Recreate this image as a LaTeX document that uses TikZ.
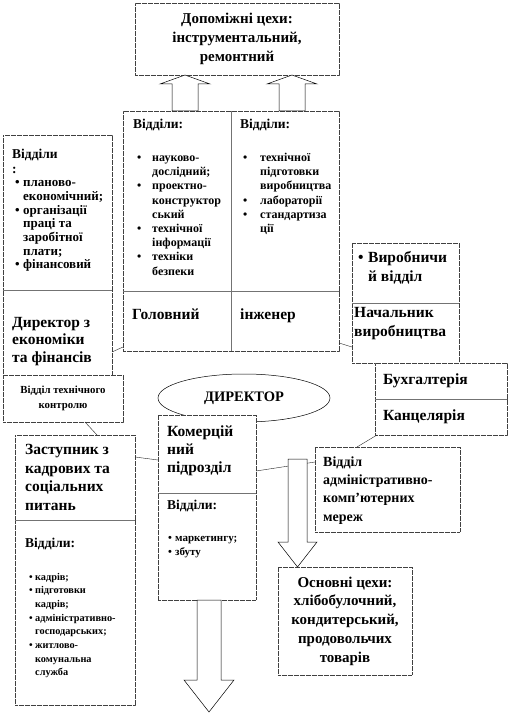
\documentclass[tikz,border=0pt]{standalone}
\usepackage{fontspec}
\setmainfont{Liberation Serif}
\usepackage{tikz}
\usetikzlibrary{shapes.geometric,calc}

\newcommand{\fnt}[2]{\fontsize{#1}{#2}\selectfont\bfseries}
\newcommand{\itm}[2][15pt]{\makebox[#1][l]{\textbullet}#2}
\newcommand{\contl}[2][15pt]{\hspace*{#1}#2}

\begin{document}
\begin{tikzpicture}[x=1pt,y=-1pt,
  cell/.style={draw=black!75,dash pattern=on 0.6pt off 0.6pt,line width=0.5pt,fill=white,anchor=north west,inner sep=0pt,outer sep=0pt},
  txt/.style={anchor=north west,align=left,inner sep=0pt},
  divider/.style={draw=black!55,line width=0.7pt},
  link/.style={draw=black!85,line width=0.4pt},
  blk/.style={draw,fill=white,line width=0.5pt,line join=miter},
  pics/barrow/.style args={#1/#2/#3/#4}{code={
    \draw[blk] (-#3,0) -- (-#3,#1) -- (-#4,#1) -- (0,#2) -- (#4,#1) -- (#3,#1) -- (#3,0) -- cycle;}}
]
  \path[fill=white,use as bounding box] (0,0) rectangle (510,714);

  % допоміжні цехи
  \node[cell,minimum width=204,minimum height=72,align=center,font={\fnt{15}{19}}] (dop) at (135,3)
    {Допоміжні цехи:\\інструментальний,\\ремонтний};

  % головний інженер
  \node[cell,minimum width=108,minimum height=180] (vlt) at (123,111) {};
  \node[cell,minimum width=108,minimum height=180] (vrt) at (231,111) {};
  \node[cell,minimum width=108,minimum height=60] (golov) at (123,291) {};
  \node[cell,minimum width=108,minimum height=60] (inzh) at (231,291) {};
  \draw[divider] (vlt.south west) -- (vrt.south east);
  \draw[divider] (vlt.north east) -- (inzh.south west);
  \node[txt,font={\fnt{13.5}{16}}] at ([xshift=10pt,yshift=-6.6pt]vlt.north west) {\strut Відділи:};
  \node[txt,font={\fnt{12}{14.2}}] at ([xshift=14pt,yshift=-40.4pt]vlt.north west)
    {\strut\itm{науково-}\\\contl{дослідний;}\\\itm{проектно-}\\\contl{конструктор}\\\contl{ський}\\
     \itm{технічної}\\\contl{інформації}\\\itm{техніки}\\\contl{безпеки}};
  \node[txt,font={\fnt{13.5}{16}}] at ([xshift=9pt,yshift=-6.6pt]vrt.north west) {\strut Відділи:};
  \node[txt,font={\fnt{12}{14.2}}] at ([xshift=12pt,yshift=-40.4pt]vrt.north west)
    {\strut\itm[17pt]{технічної}\\\contl[17pt]{підготовки}\\\contl[17pt]{виробництва}\\
     \itm[17pt]{лабораторії}\\\itm[17pt]{стандартиза}\\\contl[17pt]{ції}};
  \node[txt,font={\fnt{15.5}{18.5}}] at ([xshift=9pt,yshift=-15.4pt]golov.north west) {\strut Головний};
  \node[txt,font={\fnt{15.5}{18.5}}] at ([xshift=9pt,yshift=-15.4pt]inzh.north west) {\strut інженер};

  % директор з економіки
  \node[cell,minimum width=109,minimum height=155] (econv) at (3,135) {};
  \node[cell,minimum width=109,minimum height=85] (econd) at (3,290) {};
  \draw[divider] (econv.south west) -- (econv.south east);
  \node[txt,font={\fnt{13.5}{15}}] at ([xshift=9pt,yshift=-13.3pt]econv.north west) {\strut Відділи\\:};
  \node[txt,font={\fnt{13}{13.7}}] at ([xshift=12pt,yshift=-42pt]econv.north west)
    {\strut\itm[8pt]{планово-}\\\contl[8pt]{економічний;}\\\itm[8pt]{організації}\\\contl[8pt]{праці та}\\
     \contl[8pt]{заробітної}\\\contl[8pt]{плати;}\\\itm[8pt]{фінансовий}};
  \node[txt,font={\fnt{15.5}{17.5}}] at ([xshift=9pt,yshift=-25pt]econd.north west)
    {\strut Директор з\\економіки\\та фінансів};

  \node[cell,minimum width=120,minimum height=47,align=center,font={\fnt{10.8}{15}}] (vtk) at (3,375)
    {Відділ технічного\\контролю};

  % начальник виробництва
  \node[cell,minimum width=107,minimum height=60] (virv) at (352,243) {};
  \node[cell,minimum width=107,minimum height=60] (nach) at (352,303) {};
  \draw[divider] (virv.south west) -- (virv.south east);
  \node[txt,font={\fnt{15.5}{19}}] at ([xshift=6pt,yshift=-6pt]virv.north west)
    {\strut\itm[10pt]{Виробничи}\\\contl[10pt]{й відділ}};
  \node[txt,font={\fnt{15.5}{19}}] at ([xshift=2pt,yshift=-1pt]nach.north west)
    {\strut Начальник\\виробництва};

  \node[cell,minimum width=132,minimum height=36,text width=116,inner xsep=8pt,align=left,font={\fnt{15.5}{18}}] (buh) at (375,363) {Бухгалтерія};
  \node[cell,minimum width=132,minimum height=36,text width=116,inner xsep=8pt,align=left,font={\fnt{15.5}{18}}] (kanc) at (375,399) {Канцелярія};
  \draw[divider] (buh.south west) -- (buh.south east);

  \node[ellipse,draw,line width=0.5pt,fill=white,minimum width=172,minimum height=48,inner sep=0pt,font={\fnt{14.5}{17}}] (dir) at (244,398) {ДИРЕКТОР};

  % комерційний підрозділ
  \node[cell,minimum width=98,minimum height=78] (komt) at (158,415) {};
  \node[cell,minimum width=98,minimum height=107] (komd) at (158,493) {};
  \draw[divider] (komt.south west) -- (komt.south east);
  \node[txt,font={\fnt{15.5}{18}}] at ([xshift=9pt,yshift=-8.7pt]komt.north west)
    {\strut Комерцій\\ний\\підрозділ};
  \node[txt,font={\fnt{13.5}{16}}] at ([xshift=9pt,yshift=-4.6pt]komd.north west) {\strut Відділи:};
  \node[txt,font={\fnt{11}{14}}] at ([xshift=10pt,yshift=-38.3pt]komd.north west)
    {\strut\itm[7pt]{маркетингу;}\\\itm[7pt]{збуту}};

  % заступник з кадрових питань
  \node[cell,minimum width=120,minimum height=85] (zast) at (15,435) {};
  \node[cell,minimum width=120,minimum height=185] (zastd) at (15,520) {};
  \draw[divider] (zast.south west) -- (zast.south east);
  \node[txt,font={\fnt{15.5}{18.7}}] at ([xshift=10pt,yshift=-6.2pt]zast.north west)
    {\strut Заступник з\\кадрових та\\соціальних\\питань};
  \node[txt,font={\fnt{13.5}{16}}] at ([xshift=10pt,yshift=-15.6pt]zastd.north west) {\strut Відділи:};
  \node[txt,font={\fnt{10.3}{13.7}}] at ([xshift=14pt,yshift=-50.3pt]zastd.north west)
    {\strut\itm[6pt]{кадрів;}\\\itm[6pt]{підготовки}\\\contl[6pt]{кадрів;}\\\itm[6pt]{адміністративно-}\\
     \contl[6pt]{господарських;}\\\itm[6pt]{житлово-}\\\contl[6pt]{комунальна}\\\contl[6pt]{служба}};

  \node[cell,minimum width=145,minimum height=85] (adm) at (315,447) {};
  \node[txt,font={\fnt{14}{18.3}}] at ([xshift=8pt,yshift=-6.1pt]adm.north west)
    {\strut Відділ\\адміністративно-\\комп'ютерних\\мереж};

  \node[cell,minimum width=134,minimum height=108,align=center,font={\fnt{15}{18.7}}] (osn) at (278,567)
    {Основні цехи:\\хлібобулочний,\\кондитерський,\\продовольчих\\товарів};

  % зв'язки
  \draw[link] ([yshift=23pt]econd.south east) -- ([yshift=4pt]golov.south west);
  \draw[link] ([yshift=8pt]inzh.south east) -- ([yshift=16pt]nach.south west);
  \draw[link] ([xshift=82pt]vtk.south west) -- ([xshift=82pt]zast.north west);
  \draw[link] ([yshift=-22pt]zast.north east) -- ([yshift=-45pt]komt.north west);
  \draw[link] ([yshift=-56pt]komt.north east) -- ([yshift=-15pt]adm.north west);
  \draw[link] ([xshift=2pt]kanc.south west) -- ([xshift=42pt]adm.north west);

  % стрілки
  \pic[rotate=180] at ([xshift=62pt]vlt.north west) {barrow=27/36/13/25};
  \pic[rotate=180] at ([xshift=61pt]vrt.north west) {barrow=27/36/13/25};
  \pic at ([xshift=51pt]komd.south west) {barrow=80/112/12/25};
  \pic at (297.5,459) {barrow=83/108/9.5/19.5};
\end{tikzpicture}
\end{document}
